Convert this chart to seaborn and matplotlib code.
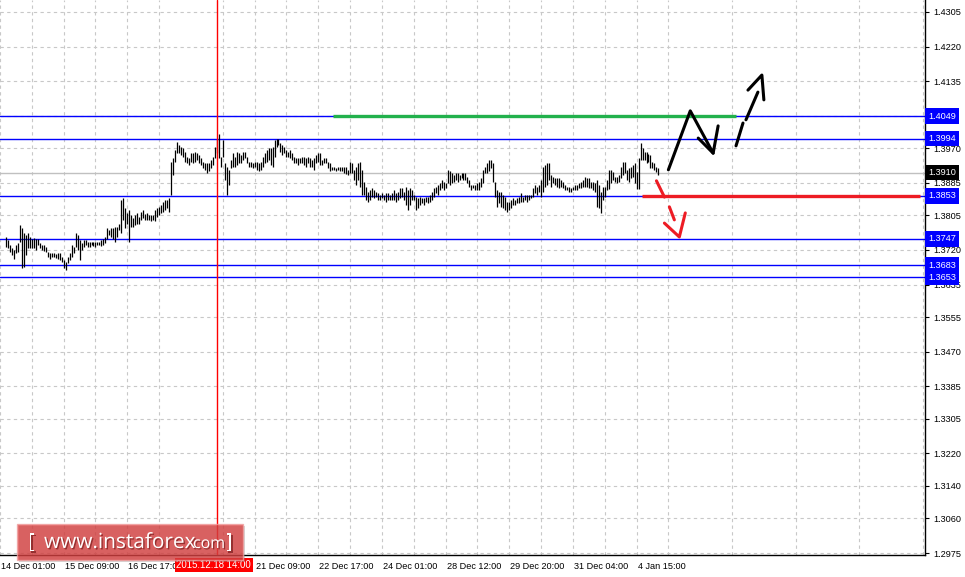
import numpy as np
import pandas as pd
import matplotlib
matplotlib.use("Agg")
import matplotlib.pyplot as plt
import matplotlib.transforms as mtransforms
import matplotlib.patheffects as pe
from matplotlib.patches import FancyBboxPatch
import seaborn as sns

# H1 bars (high / low)
bar_high = [
    1.3753, 1.3744, 1.3732, 1.3724, 1.3720, 1.3732, 1.3736, 1.3781, 1.3773, 1.3761,
    1.3757, 1.3761, 1.3753, 1.3748, 1.3750, 1.3748, 1.3748, 1.3736, 1.3732, 1.3732,
    1.3728, 1.3716, 1.3712, 1.3712, 1.3712, 1.3710, 1.3712, 1.3712, 1.3703, 1.3695,
    1.3691, 1.3703, 1.3712, 1.3732, 1.3728, 1.3761, 1.3757, 1.3744, 1.3736, 1.3744,
    1.3744, 1.3740, 1.3740, 1.3740, 1.3740, 1.3740, 1.3740, 1.3740, 1.3744, 1.3748,
    1.3753, 1.3773, 1.3769, 1.3773, 1.3773, 1.3777, 1.3777, 1.3785, 1.3843, 1.3847,
    1.3822, 1.3810, 1.3818, 1.3806, 1.3798, 1.3806, 1.3810, 1.3802, 1.3814, 1.3818,
    1.3808, 1.3810, 1.3806, 1.3806, 1.3806, 1.3818, 1.3822, 1.3826, 1.3831, 1.3839,
    1.3843, 1.3843, 1.3847,
    1.3937, 1.3945, 1.3966, 1.3986, 1.3978, 1.3974, 1.3970, 1.3962, 1.3949, 1.3945,
    1.3958, 1.3958, 1.3962, 1.3958, 1.3954, 1.3945, 1.3937, 1.3933, 1.3933, 1.3933,
    1.3941, 1.3949, 1.3974, 1.3994, 1.4005, 1.3949, 1.3990, 1.3933, 1.3925, 1.3917,
    1.3941, 1.3958, 1.3949, 1.3962, 1.3958, 1.3954, 1.3962, 1.3962, 1.3949, 1.3937,
    1.3937, 1.3933, 1.3937, 1.3937, 1.3933, 1.3937, 1.3949, 1.3958, 1.3966, 1.3970,
    1.3970, 1.3974, 1.3990, 1.3994, 1.3994, 1.3982, 1.3978, 1.3974, 1.3966, 1.3962,
    1.3966, 1.3958, 1.3949, 1.3945, 1.3945, 1.3945, 1.3949, 1.3949, 1.3945, 1.3949,
    1.3945, 1.3941, 1.3945, 1.3954, 1.3958, 1.3958, 1.3941, 1.3945, 1.3945, 1.3937,
    1.3933,
    1.3925, 1.3925, 1.3921, 1.3925, 1.3925, 1.3925, 1.3925, 1.3925, 1.3917, 1.3937,
    1.3933, 1.3917, 1.3925, 1.3933, 1.3937, 1.3917, 1.3888, 1.3876, 1.3863, 1.3867,
    1.3872, 1.3867, 1.3863, 1.3859, 1.3855, 1.3859, 1.3855, 1.3859, 1.3859, 1.3855,
    1.3859, 1.3867, 1.3859, 1.3863, 1.3872, 1.3872, 1.3863, 1.3876, 1.3867, 1.3872,
    1.3867, 1.3855, 1.3851, 1.3847, 1.3851, 1.3847, 1.3847, 1.3851, 1.3851, 1.3855,
    1.3863, 1.3872, 1.3876, 1.3880, 1.3884, 1.3892, 1.3888, 1.3884, 1.3917, 1.3913,
    1.3908, 1.3904, 1.3908, 1.3908, 1.3904, 1.3908, 1.3908, 1.3908, 1.3900, 1.3892,
    1.3880, 1.3880, 1.3880, 1.3884, 1.3888, 1.3896, 1.3917, 1.3925, 1.3933, 1.3941,
    1.3941, 1.3933, 1.3888, 1.3867, 1.3863, 1.3863, 1.3855, 1.3851, 1.3839, 1.3839,
    1.3843, 1.3847, 1.3843, 1.3847, 1.3851, 1.3859, 1.3851, 1.3855, 1.3855, 1.3855,
    1.3855, 1.3872, 1.3880, 1.3876, 1.3880, 1.3892, 1.3925, 1.3929, 1.3933, 1.3933,
    1.3904, 1.3900, 1.3896, 1.3896, 1.3896, 1.3892, 1.3888, 1.3880, 1.3876, 1.3876,
    1.3872, 1.3876, 1.3880, 1.3880, 1.3884, 1.3888, 1.3892, 1.3900, 1.3896, 1.3896,
    1.3888, 1.3888, 1.3884, 1.3892, 1.3880,
    1.3863, 1.3875, 1.3875, 1.3892, 1.3916, 1.3916, 1.3912, 1.3900, 1.3900, 1.3904,
    1.3925, 1.3937, 1.3937, 1.3916, 1.3921, 1.3925, 1.3929, 1.3933, 1.3912, 1.3945,
    1.3982, 1.3970, 1.3962, 1.3962, 1.3957, 1.3953, 1.3937, 1.3933, 1.3925, 1.3921,
]
bar_low = [
    1.3728, 1.3724, 1.3716, 1.3707, 1.3699, 1.3712, 1.3716, 1.3740, 1.3675, 1.3679,
    1.3707, 1.3724, 1.3724, 1.3724, 1.3726, 1.3720, 1.3732, 1.3724, 1.3720, 1.3718,
    1.3716, 1.3703, 1.3699, 1.3703, 1.3702, 1.3700, 1.3699, 1.3695, 1.3691, 1.3675,
    1.3671, 1.3687, 1.3695, 1.3703, 1.3712, 1.3728, 1.3720, 1.3695, 1.3720, 1.3728,
    1.3732, 1.3728, 1.3728, 1.3732, 1.3730, 1.3728, 1.3732, 1.3732, 1.3730, 1.3732,
    1.3736, 1.3748, 1.3757, 1.3753, 1.3748, 1.3740, 1.3753, 1.3769, 1.3761, 1.3794,
    1.3773, 1.3785, 1.3740, 1.3777, 1.3777, 1.3781, 1.3785, 1.3785, 1.3794, 1.3798,
    1.3794, 1.3794, 1.3794, 1.3790, 1.3794, 1.3790, 1.3802, 1.3806, 1.3810, 1.3814,
    1.3818, 1.3822, 1.3814,
    1.3855, 1.3904, 1.3937, 1.3958, 1.3958, 1.3954, 1.3949, 1.3937, 1.3933, 1.3929,
    1.3937, 1.3933, 1.3937, 1.3941, 1.3933, 1.3929, 1.3921, 1.3917, 1.3908, 1.3913,
    1.3921, 1.3929, 1.3945, 1.3958, 1.3945, 1.3925, 1.3949, 1.3892, 1.3855, 1.3880,
    1.3921, 1.3925, 1.3925, 1.3929, 1.3933, 1.3933, 1.3941, 1.3945, 1.3933, 1.3925,
    1.3925, 1.3921, 1.3925, 1.3917, 1.3913, 1.3917, 1.3925, 1.3933, 1.3937, 1.3941,
    1.3929, 1.3925, 1.3949, 1.3974, 1.3978, 1.3962, 1.3954, 1.3958, 1.3949, 1.3949,
    1.3945, 1.3941, 1.3933, 1.3933, 1.3929, 1.3933, 1.3933, 1.3929, 1.3925, 1.3933,
    1.3925, 1.3925, 1.3917, 1.3933, 1.3937, 1.3929, 1.3929, 1.3933, 1.3933, 1.3921,
    1.3913,
    1.3917, 1.3917, 1.3915, 1.3917, 1.3913, 1.3915, 1.3908, 1.3907, 1.3904, 1.3908,
    1.3908, 1.3892, 1.3880, 1.3892, 1.3876, 1.3855, 1.3855, 1.3843, 1.3839, 1.3843,
    1.3851, 1.3847, 1.3851, 1.3843, 1.3843, 1.3847, 1.3843, 1.3839, 1.3843, 1.3843,
    1.3843, 1.3843, 1.3839, 1.3843, 1.3847, 1.3851, 1.3843, 1.3831, 1.3818, 1.3831,
    1.3843, 1.3843, 1.3818, 1.3822, 1.3831, 1.3835, 1.3831, 1.3839, 1.3835, 1.3839,
    1.3843, 1.3851, 1.3859, 1.3855, 1.3867, 1.3872, 1.3867, 1.3872, 1.3884, 1.3880,
    1.3884, 1.3888, 1.3892, 1.3888, 1.3892, 1.3896, 1.3892, 1.3892, 1.3884, 1.3876,
    1.3867, 1.3872, 1.3867, 1.3867, 1.3867, 1.3876, 1.3884, 1.3908, 1.3908, 1.3913,
    1.3921, 1.3888, 1.3851, 1.3826, 1.3835, 1.3826, 1.3822, 1.3818, 1.3814, 1.3818,
    1.3822, 1.3831, 1.3831, 1.3835, 1.3835, 1.3839, 1.3839, 1.3843, 1.3839, 1.3843,
    1.3847, 1.3851, 1.3859, 1.3855, 1.3863, 1.3851, 1.3863, 1.3876, 1.3880, 1.3892,
    1.3876, 1.3884, 1.3880, 1.3876, 1.3872, 1.3876, 1.3872, 1.3867, 1.3867, 1.3863,
    1.3863, 1.3867, 1.3867, 1.3867, 1.3872, 1.3872, 1.3876, 1.3876, 1.3876, 1.3872,
    1.3872, 1.3867, 1.3863, 1.3826, 1.3822,
    1.3810, 1.3843, 1.3851, 1.3867, 1.3871, 1.3884, 1.3892, 1.3888, 1.3884, 1.3888,
    1.3896, 1.3904, 1.3908, 1.3892, 1.3888, 1.3896, 1.3900, 1.3884, 1.3871, 1.3871,
    1.3941, 1.3941, 1.3941, 1.3933, 1.3937, 1.3921, 1.3921, 1.3916, 1.3912, 1.3904,
]

# time axis (bar index where each label sits)
time_labels = ["14 Dec 01:00", "15 Dec 09:00", "16 Dec 17:00", "21 Dec 09:00",
               "22 Dec 17:00", "24 Dec 01:00", "28 Dec 12:00", "29 Dec 20:00",
               "31 Dec 04:00", "4 Jan 15:00"]
time_label_bars = [-3, 29, 61, 125, 157, 189, 221, 253, 285, 317]
marker_bar = 106
marker_label = "2015.12.18 14:00"

price_ticks = [1.2975, 1.3060, 1.3140, 1.3220, 1.3305, 1.3385, 1.3470, 1.3555, 1.3635,
               1.3720, 1.3805, 1.3885, 1.3970, 1.4050, 1.4135, 1.4220, 1.4305]
hidden_ticks = [1.4050]  # covered by the 1.4049 level box
blue_levels = [1.4049, 1.3994, 1.3853, 1.3747, 1.3683, 1.3653]
last_price = 1.3910

# analyst drawings (bar index, price)
green_x = [164.5, 367.0]
green_y = [1.4049, 1.4049]
red_x = [319.5, 459.5]
red_y = [1.3853, 1.3853]
up_path_x = [333.0, 344.0, 355.5, 358.0]
up_path_y = [1.3917, 1.4062, 1.3958, 1.4025]
up_tick_x = [348.0, 355.5]
up_tick_y = [1.3995, 1.3958]
up_dash1_x = [367.0, 370.5]
up_dash1_y = [1.3976, 1.4032]
up_dash2_x = [372.0, 378.0]
up_dash2_y = [1.4040, 1.4108]
up_head_x = [373.0, 380.0, 381.0]
up_head_y = [1.4113, 1.4150, 1.4089]
dn_dash1_x = [327.0, 331.0]
dn_dash1_y = [1.3890, 1.3850]
dn_dash2_x = [333.5, 336.0]
dn_dash2_y = [1.3826, 1.3794]
dn_head_x = [331.0, 338.5, 341.5]
dn_head_y = [1.3786, 1.3752, 1.3811]

bars = pd.DataFrame({"bar": np.arange(len(bar_high)), "high": bar_high, "low": bar_low})

sns.set_style("white")
plt.rcParams["font.family"] = ["Liberation Sans", "DejaVu Sans"]
FS = 6.6

W, H = 965, 577
fig = plt.figure(figsize=(W / 100, H / 100), dpi=100)
ax = fig.add_axes([0, 22 / H, 925 / W, 555 / H])

ax.set_xlim(-0.5, 462)
ax.set_ylim(1.29701, 1.43345)

# grid
grid_kw = dict(color="#c8c8c8", lw=0.8, ls=(0, (3, 3)), zorder=0)
ax.set_yticks(price_ticks)
ax.set_yticklabels(["" if p in hidden_ticks else f"{p:.4f}" for p in price_ticks])
ax.set_xticks(time_label_bars)
ax.set_xticklabels([""] * len(time_label_bars))
ax.set_xticks(np.arange(13, 462, 32), minor=True)
ax.grid(True, which="both", **grid_kw)
ax.tick_params(axis="x", which="minor", length=0)

# levels
for lv in blue_levels:
    ax.axhline(lv, color="#0000ff", lw=1.0, zorder=1)
ax.axhline(last_price, color="#c0c0c0", lw=1.0, zorder=1)

# price bars
ax.vlines(bars["bar"], bars["low"], bars["high"], color="black", lw=0.9, zorder=3)

# marker line
ax.axvline(marker_bar, color="#ff0000", lw=1.0, zorder=4)

# drawings
ax.plot(green_x, green_y, color="#22b14c", lw=2.4, solid_capstyle="butt", zorder=5)
ax.plot(red_x, red_y, color="#ed1c24", lw=2.4, solid_capstyle="butt", zorder=5)
for xs, ys in [(up_path_x, up_path_y), (up_tick_x, up_tick_y), (up_dash1_x, up_dash1_y),
               (up_dash2_x, up_dash2_y), (up_head_x, up_head_y)]:
    ax.plot(xs, ys, color="black", lw=2.2, solid_capstyle="round", zorder=6)
for xs, ys in [(dn_dash1_x, dn_dash1_y), (dn_dash2_x, dn_dash2_y), (dn_head_x, dn_head_y)]:
    ax.plot(xs, ys, color="#ed1c24", lw=2.2, solid_capstyle="round", zorder=6)

# axes styling
for s in ["left", "top"]:
    ax.spines[s].set_visible(False)
for s in ["right", "bottom"]:
    ax.spines[s].set_color("black")
    ax.spines[s].set_linewidth(1.0)
ax.yaxis.tick_right()
ax.tick_params(axis="y", which="major", length=3, width=0.8, pad=3, labelsize=FS,
               colors="black", direction="out")
ax.tick_params(axis="x", which="major", length=4, width=0.8, pad=3, labelsize=FS,
               colors="black", direction="out")

# time labels start just right of their tick
xtrans = mtransforms.blended_transform_factory(ax.transData, ax.transAxes)
shift = mtransforms.ScaledTranslation(1 / 100, 0, fig.dpi_scale_trans)
for b, lab in zip(time_label_bars, time_labels):
    ax.text(b, -0.0125, lab, transform=xtrans + shift, ha="left", va="top",
            fontsize=FS, color="black", clip_on=False)

# price label boxes on the right axis
ytrans = mtransforms.blended_transform_factory(ax.transAxes, ax.transData)
for lv in blue_levels:
    ax.text(1.0035, lv, f"{lv:.4f}", transform=ytrans, ha="left", va="center",
            fontsize=FS, color="white", clip_on=False, zorder=10,
            bbox=dict(boxstyle="square,pad=0.35", fc="#0000ff", ec="none"))
ax.text(1.0035, last_price, f"{last_price:.4f}", transform=ytrans, ha="left", va="center",
        fontsize=FS, color="white", clip_on=False, zorder=10,
        bbox=dict(boxstyle="square,pad=0.35", fc="black", ec="none"))

# time marker label
ax.text(marker_bar - 1.5, -0.0175, marker_label, transform=xtrans, ha="center", va="center",
        fontsize=FS + 0.3, color="white", clip_on=False, zorder=12,
        bbox=dict(boxstyle="square,pad=0.2", fc="#ff0000", ec="none"))

# watermark
fig.patches.append(FancyBboxPatch((19 / W, 15 / H), 226 / W, 36 / H,
                                  boxstyle="square,pad=0", transform=fig.transFigure,
                                  fc="#7a7a7a", ec="none", alpha=0.3, zorder=8))
fig.patches.append(FancyBboxPatch((17 / W, 17 / H), 226 / W, 36 / H,
                                  boxstyle="square,pad=0", transform=fig.transFigure,
                                  fc="#d93a3a", ec="#f0a0a0", lw=1, alpha=0.75, zorder=9))
shadow = [pe.withSimplePatchShadow(offset=(1, -1), shadow_rgbFace="#6a1010", alpha=0.6)]
fig.text(28 / W, 29 / H, "[", color="white", fontsize=15, family="Open Sans",
         zorder=11, path_effects=shadow)
fig.text(44 / W, 29 / H, "www.instaforex", color="white", fontsize=15, family="Open Sans",
         zorder=11, path_effects=shadow)
fig.text(193 / W, 29 / H, "com", color="white", fontsize=11.5, family="Open Sans",
         zorder=11, path_effects=shadow)
fig.text(226 / W, 29 / H, "]", color="white", fontsize=15, family="Open Sans",
         zorder=11, path_effects=shadow)

fig.savefig("out.png", dpi=100, facecolor="white")
